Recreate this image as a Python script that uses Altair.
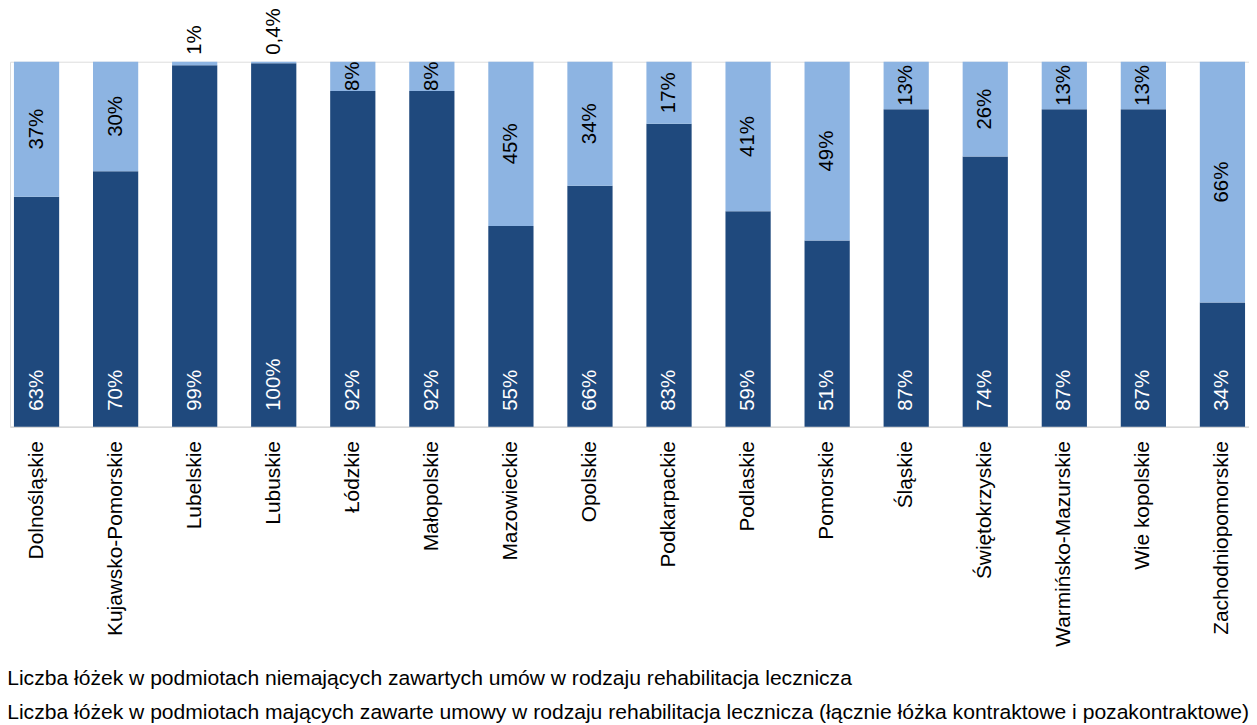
import altair as alt
import pandas as pd

regions = ["Dolnośląskie", "Kujawsko-Pomorskie", "Lubelskie", "Lubuskie", "Łódzkie",
           "Małopolskie", "Mazowieckie", "Opolskie", "Podkarpackie", "Podlaskie",
           "Pomorskie", "Śląskie", "Świętokrzyskie", "Warmińsko-Mazurskie",
           "Wie kopolskie", "Zachodniopomorskie"]
contract_vals = [63, 70, 99, 100, 92, 92, 55, 66, 83, 59, 51, 87, 74, 87, 87, 34]
noncontract_vals = [37, 30, 1, 0.4, 8, 8, 45, 34, 17, 41, 49, 13, 26, 13, 13, 66]
contract_labels = ["63%", "70%", "99%", "100%", "92%", "92%", "55%", "66%", "83%", "59%",
                   "51%", "87%", "74%", "87%", "87%", "34%"]
noncontract_labels = ["37%", "30%", "1%", "0,4%", "8%", "8%", "45%", "34%", "17%", "41%",
                      "49%", "13%", "26%", "13%", "13%", "66%"]
series_names = [
    "Liczba łóżek w podmiotach niemających zawartych umów w rodzaju rehabilitacja lecznicza",
    "Liczba łóżek w podmiotach mających zawarte umowy w rodzaju rehabilitacja lecznicza (łącznie łóżka kontraktowe i pozakontraktowe)",
]
colors = ["#8DB4E2", "#1F497D"]

rows = []
for i, r in enumerate(regions):
    rows.append({"region": r, "series": series_names[1], "value": contract_vals[i],
                 "label": contract_labels[i], "ord": 0, "kind": "dark"})
    rows.append({"region": r, "series": series_names[0], "value": noncontract_vals[i],
                 "label": noncontract_labels[i], "ord": 1, "kind": "light"})
df = pd.DataFrame(rows)

FONT = "Liberation Sans"
FS = 21
LFS = 20.5

base = alt.Chart(df).transform_stack(
    stack="value", groupby=["region"], as_=["v0", "v1"], offset="normalize",
    sort=[alt.SortField("ord", order="ascending")]
).transform_calculate(mid="(datum.v0 + datum.v1) / 2")

xscale = alt.Scale(paddingInner=0.428, paddingOuter=0.05, round=False)
xenc = alt.X("region:N", sort=regions, title=None, scale=xscale,
             axis=alt.Axis(labelAngle=270, labelFontSize=FS, labelFont=FONT, labelColor="black",
                           labelPadding=14, ticks=False, domainColor="#d9d9d9", domainWidth=1.5,
                           labelLimit=0))
yscale = alt.Scale(domain=[0, 1])

bars = base.mark_bar().encode(
    x=xenc,
    y=alt.Y("v0:Q", scale=yscale, axis=None),
    y2="v1:Q",
    color=alt.Color("series:N", scale=alt.Scale(domain=series_names, range=colors),
                    legend=alt.Legend(orient="none", legendX=-24, legendY=610, direction="vertical",
                                      title=None, symbolSize=0, symbolOpacity=0, symbolStrokeWidth=0,
                                      labelFontSize=21.2, labelFont=FONT, labelColor="black",
                                      labelLimit=0, labelOffset=0, rowPadding=12)),
)

xtext = alt.X("region:N", sort=regions)

dark_text = base.transform_filter(alt.datum.kind == "dark").mark_text(
    angle=270, align="left", baseline="middle", dx=16, fontSize=LFS, font=FONT, color="white"
).encode(x=xtext, y=alt.Y("v0:Q", scale=yscale), text="label:N")

light_in = base.transform_filter((alt.datum.kind == "light") & (alt.datum.value >= 5)).mark_text(
    angle=270, align="center", baseline="middle", fontSize=LFS, font=FONT, color="black"
).encode(x=xtext, y=alt.Y("mid:Q", scale=yscale), text="label:N")

light_out = base.transform_filter((alt.datum.kind == "light") & (alt.datum.value < 5)).mark_text(
    angle=270, align="left", baseline="middle", dx=7, fontSize=LFS, font=FONT, color="black"
).encode(x=xtext, y=alt.Y("v1:Q", scale=yscale), text="label:N")

chart = alt.layer(bars, dark_text, light_in, light_out).properties(
    width=1246, height=367,
    autosize=alt.AutoSizeParams(type="none"),
    padding={"left": 2, "top": 52, "right": 0, "bottom": 297},
).configure_view(stroke=None).configure(font=FONT, background="white")

chart.save("out.html", embed_options={"renderer": "svg", "actions": False})
